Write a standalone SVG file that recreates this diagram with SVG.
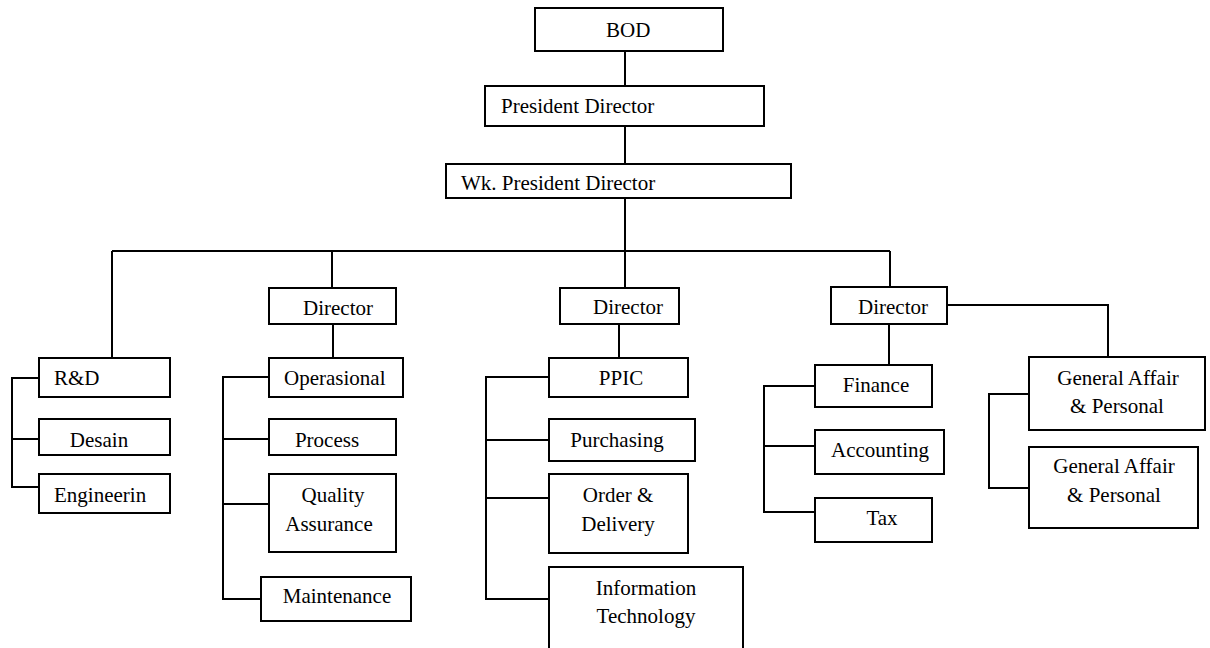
<svg xmlns="http://www.w3.org/2000/svg" width="1210" height="648" viewBox="0 0 1210 648">
<style>
.b{fill:#fff;stroke:#000;stroke-width:2}
text{font-family:'Liberation Serif','Times New Roman',Times,'DejaVu Serif',serif;font-size:21px;fill:#000}
.m{text-anchor:middle}
.c{fill:none;stroke:#000;stroke-width:2}
</style>
<rect width="1210" height="648" fill="#fff"/>
<g id="connectors">
<path class="c" d="M625 51V86M625 126V164M625 198V251M112 251H890M112 251V358M332 251V288M625 251V288M890 251V287"/>
<path class="c" d="M333 324V358M619 324V358M889 324V365M947 305H1108V357"/>
<path class="c" d="M39 378H12V487H39M12 439H39"/>
<path class="c" d="M269 377H223V599H261M223 439H269M223 504H269"/>
<path class="c" d="M549 377H486V599H549M486 440H549M486 498H549"/>
<path class="c" d="M815 386H764V512H815M764 446H815"/>
<path class="c" d="M1029 394H989V488H1029"/>
</g>
<g id="bod"><rect class="b" x="535" y="8" width="188" height="43"/><text x="606" y="37">BOD</text></g>
<g id="president"><rect class="b" x="485" y="86" width="279" height="40"/><text x="501" y="113">President Director</text></g>
<g id="wk-president"><rect class="b" x="446" y="164" width="345" height="34"/><text x="461" y="190">Wk. President Director</text></g>
<g id="director1"><rect class="b" x="269" y="288" width="127" height="36"/><text x="303" y="315">Director</text></g>
<g id="director2"><rect class="b" x="560" y="288" width="119" height="36"/><text x="593" y="314">Director</text></g>
<g id="director3"><rect class="b" x="831" y="287" width="116" height="37"/><text x="858" y="314">Director</text></g>
<g id="rnd"><rect class="b" x="39" y="358" width="131" height="39"/><text x="54" y="385">R&amp;D</text></g>
<g id="desain"><rect class="b" x="39" y="419" width="131" height="36"/><text class="m" x="99" y="447">Desain</text></g>
<g id="engineerin"><rect class="b" x="39" y="474" width="131" height="39"/><text x="54" y="502">Engineerin</text></g>
<g id="operasional"><rect class="b" x="269" y="358" width="134" height="39"/><text x="284" y="385">Operasional</text></g>
<g id="process"><rect class="b" x="269" y="419" width="127" height="36"/><text class="m" x="327" y="447">Process</text></g>
<g id="quality"><rect class="b" x="269" y="474" width="127" height="78"/><text class="m" x="333" y="502">Quality</text><text class="m" x="329" y="531">Assurance</text></g>
<g id="maintenance"><rect class="b" x="261" y="577" width="150" height="44"/><text class="m" x="337" y="603">Maintenance</text></g>
<g id="ppic"><rect class="b" x="549" y="358" width="139" height="39"/><text class="m" x="621" y="385">PPIC</text></g>
<g id="purchasing"><rect class="b" x="549" y="419" width="146" height="42"/><text class="m" x="617" y="447">Purchasing</text></g>
<g id="order"><rect class="b" x="549" y="474" width="139" height="79"/><text class="m" x="618" y="502">Order &amp;</text><text class="m" x="618" y="531">Delivery</text></g>
<g id="it"><rect class="b" x="549" y="567" width="194" height="90"/><text class="m" x="646" y="595">Information</text><text class="m" x="646" y="623">Technology</text></g>
<g id="finance"><rect class="b" x="815" y="365" width="117" height="42"/><text class="m" x="876" y="392">Finance</text></g>
<g id="accounting"><rect class="b" x="815" y="430" width="129" height="44"/><text class="m" x="880" y="457">Accounting</text></g>
<g id="tax"><rect class="b" x="815" y="498" width="117" height="44"/><text class="m" x="882" y="525">Tax</text></g>
<g id="ga1"><rect class="b" x="1029" y="357" width="176" height="73"/><text class="m" x="1118" y="385">General Affair</text><text class="m" x="1117" y="413">&amp; Personal</text></g>
<g id="ga2"><rect class="b" x="1029" y="447" width="169" height="81"/><text class="m" x="1114" y="473">General Affair</text><text class="m" x="1114" y="502">&amp; Personal</text></g>
</svg>
